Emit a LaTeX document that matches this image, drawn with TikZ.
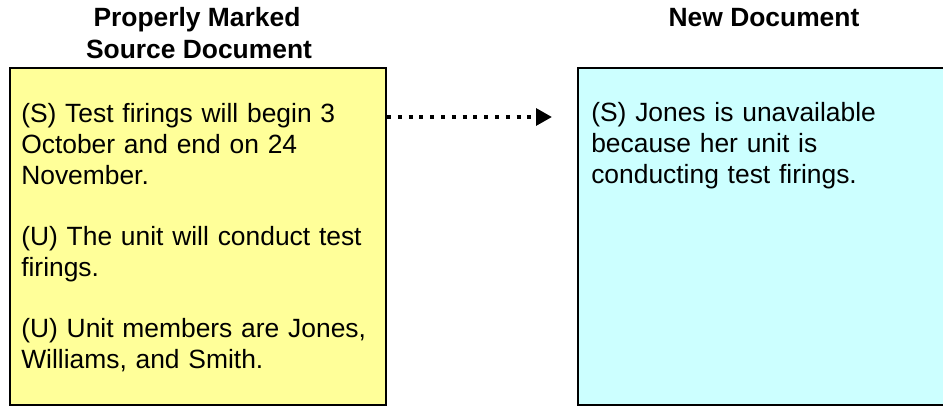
\documentclass[tikz,border=0pt]{standalone}
\usepackage{fontspec}
\setmainfont{Liberation Sans}
\usetikzlibrary{arrows.meta,calc}
\definecolor{srcyellow}{RGB}{255,255,153}
\definecolor{newcyan}{RGB}{204,255,255}
\begin{document}
\begin{tikzpicture}[x=0.75pt,y=-0.75pt,
  box/.style={draw=black, line width=1.5pt, anchor=north west, inner sep=0pt},
  body/.style={font=\fontsize{19.8}{23.25}\selectfont, anchor=base west, inner sep=0pt, text width=270pt, align=left},
  title/.style={font=\bfseries\fontsize{19.8}{24}\selectfont, anchor=base, inner sep=0pt},
  flow/.style={line width=3.2pt, dash pattern=on 3pt off 5.1pt, -{Triangle[length=12pt,width=12.5pt]}}]
\useasboundingbox (0,0) rectangle (943,406);
\node[box, fill=srcyellow, minimum width=282pt, minimum height=252.4pt] (src) at (9,67) {};
\node[box, fill=newcyan, minimum width=300pt, minimum height=252.4pt] (new) at (577,67) {};
\node[title] (srct1) at (197,27) {Properly Marked};
\node[title] (srct2) at (199,59) {Source Document};
\node[title] (newt) at (764,27) {New Document};
\node[body] (p1) at (21,123) {(S) Test firings will begin 3\\October and end on 24\\November.};
\node[body] (p2) at (21,246) {(U) The unit will conduct test\\firings.};
\node[body] (p3) at (21,337) {(U) Unit members are Jones,\\Williams, and Smith.};
\node[body] (p4) at (591,122) {(S) Jones is unavailable\\because her unit is\\conducting test firings.};
\coordinate (a0) at ($(src.north east)+(0,50)$);
\draw[flow, shorten >=18.75pt] (a0) -- (a0 -| new.west);
\end{tikzpicture}
\end{document}
